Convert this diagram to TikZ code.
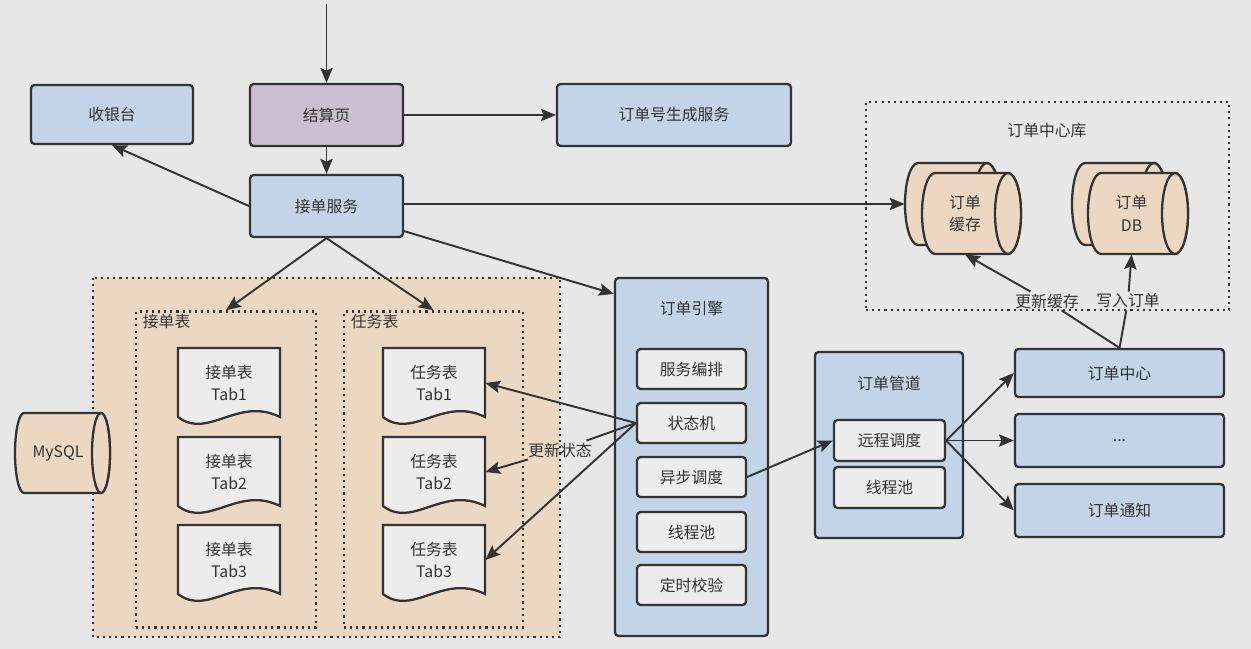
\documentclass[tikz,border=0pt]{standalone}
\usepackage{fontspec}
\setmainfont{Noto Sans CJK SC}
\usetikzlibrary{arrows.meta, calc}

\definecolor{bgcol}{HTML}{E7E7E7}
\definecolor{svcblue}{HTML}{C3D3E8}
\definecolor{pagepurple}{HTML}{CDBFD2}
\definecolor{peach}{HTML}{ECD7C3}
\definecolor{cellgray}{HTML}{ECECEC}
\definecolor{ink}{HTML}{333333}

\tikzset{
  svc/.style={draw=ink, fill=svcblue, line width=1.3pt, rounded corners=2pt, text=ink, inner sep=0pt},
  page/.style={svc, fill=pagepurple},
  cell/.style={svc, fill=cellgray, minimum width=2.18cm, minimum height=0.8cm},
  grp/.style={draw=ink, line width=1.4pt, dash pattern=on 1.2pt off 2.3pt},
  drum/.style={draw=ink, fill=peach, line width=1.3pt},
  flow/.style={draw=ink, line width=1.1pt, -{Stealth[length=8.5pt,width=7pt,inset=1.5pt]}},
  tag/.style={text=ink, inner sep=1pt}
}

\begin{document}
\begin{tikzpicture}[x=0.02cm, y=-0.02cm, font=\fontsize{9}{13}\selectfont]
  \fill[bgcol] (0,0) rectangle (1251,649);
  \useasboundingbox (0,0) rectangle (1251,649);

  % checkout flow
  \coordinate (entry) at (326.5,4);
  \node[svc, minimum width=3.24cm, minimum height=1.18cm] (cashier) at (112,114.5) {收银台};
  \node[page, minimum width=3.06cm, minimum height=1.24cm] (checkout) at (326.5,115) {结算页};
  \node[svc, minimum width=4.68cm, minimum height=1.24cm] (orderno) at (674,115) {订单号生成服务};
  \node[svc, minimum width=3.06cm, minimum height=1.24cm] (accept) at (326.5,206) {接单服务};

  % sharded tables
  \fill[peach] (93,278) rectangle (560,637);
  \draw[grp] (93,278) rectangle (560,637);
  \node[grp, minimum width=3.6cm, minimum height=6.32cm] (accgrp) at (226,469.5) {};
  \node[grp, minimum width=3.58cm, minimum height=6.32cm] (taskgrp) at (433.5,469.5) {};
  \node[tag, anchor=west] (accgrp-title) at ($(accgrp.north west)+(6,11)$) {接单表};
  \node[tag, anchor=west] (taskgrp-title) at ($(taskgrp.north west)+(6,11)$) {任务表};
  \foreach \c/\t/\n in {229/接单表/acc, 434/任务表/task}
    \foreach \y/\i in {383/1, 472/2, 560/3} {
      \filldraw[draw=ink, fill=cellgray, line width=1.3pt] (\c-51,\y-35) -- (\c-51,\y+34)
        .. controls (\c-21,\y+57) and (\c+9,\y+13) .. (\c+51,\y+34) -- (\c+51,\y-35) -- cycle;
      \node[tag, align=center, minimum width=2.04cm, minimum height=1.38cm] (\n\i) at (\c,\y) {\t\\Tab\i};
    }

  % order center storage
  \node[grp, minimum width=7.26cm, minimum height=4.16cm] (centerdb) at (1047.5,206) {};
  \node[tag] (centerdb-title) at (1047,131) {订单中心库};

  % cylinders: left, right, top, bottom, end radius
  \foreach \xl/\xr/\yt/\yb/\rx/\n/\txt in {15/110/413/493/9/mysql/MySQL,
      905/1000/163/245/13/cacheback/{}, 922/1021/173/254/13/cache/{订单\\缓存},
      1072/1167/163/245/13/dbback/{}, 1088/1188/173/254/13/db/{订单\\DB}} {
    \filldraw[drum] (\xl+\rx,\yt) -- (\xr-\rx,\yt)
      arc[start angle=-90, end angle=90, x radius=\rx, y radius={(\yb-\yt)/2}]
      -- (\xl+\rx,\yb)
      arc[start angle=90, end angle=270, x radius=\rx, y radius={(\yb-\yt)/2}] -- cycle;
    \draw[drum] (\xr-\rx,{(\yt+\yb)/2}) ellipse[x radius=\rx, y radius={(\yb-\yt)/2}];
    \node[tag, align=center, inner sep=0pt, minimum width={(\xr-\rx-\xl)*0.02cm},
      minimum height={(\yb-\yt)*0.02cm}] (\n) at ({(\xl+\xr-\rx)/2},{(\yt+\yb)/2}) {\txt};
  }

  % order engine
  \node[svc, minimum width=3.06cm, minimum height=7.16cm] (engine) at (691.5,457) {};
  \node[tag] (engine-title) at (691.5,308) {订单引擎};
  \foreach \y/\n/\t in {369/orch/服务编排, 423/fsm/状态机, 477/async/异步调度, 532/epool/线程池, 585/check/定时校验}
    \node[cell] (\n) at (691.5,\y) {\t};

  % order pipeline
  \node[svc, minimum width=2.96cm, minimum height=3.72cm] (pipe) at (889,445) {};
  \node[tag] (pipe-title) at (889,383) {订单管道};
  \node[cell, minimum width=2.22cm, minimum height=0.82cm] (remote) at (889.5,440.5) {远程调度};
  \node[cell, minimum width=2.22cm, minimum height=0.82cm] (ppool) at (889.5,487.5) {线程池};

  \node[svc, minimum width=4.18cm, minimum height=0.96cm] (hub) at (1119.5,373) {订单中心};
  \node[svc, minimum width=4.18cm, minimum height=1.06cm] (more) at (1119.5,440.5) {...};
  \node[svc, minimum width=4.18cm, minimum height=1.06cm] (notify) at (1119.5,510.5) {订单通知};

  % connectors
  \draw[flow] (entry) -- (checkout);
  \draw[flow] (checkout) -- (orderno);
  \draw[flow] (checkout) -- (accept);
  \draw[flow] (accept.west) -- (cashier.south);
  \draw[flow] (accept.east |- cacheback.west) -- (cacheback.west);
  \draw[flow] (accept.south) -- (accgrp.north);
  \draw[flow] (accept.south) -- (taskgrp.north);
  \draw[flow] ($(accept.south east)+(0,-7)$) -- ($(engine.north west)+(0,17)$);

  \node[tag] (upd) at (560,450) {更新状态};
  \draw[flow] (fsm.west) -- (task1.east);
  \draw[flow] (fsm.west) -- (upd) -- (task2.east);
  \draw[flow] (fsm.west) -- (task3.east);

  \draw[flow] (async.east) -- (remote.west);
  \draw[flow] (remote.east) -- (hub.west);
  \draw[flow] (remote.east) -- (more.west);
  \draw[flow] (remote.east) -- (notify.west);

  \node[tag] (cacheupd) at (1047,301) {更新缓存};
  \node[tag] (dbwrite) at (1128,301) {写入订单};
  \draw[flow] (hub.north) -- (cacheupd) -- (cache.south);
  \draw[flow] (hub.north) -- (dbwrite) -- (db.south);
\end{tikzpicture}
\end{document}
